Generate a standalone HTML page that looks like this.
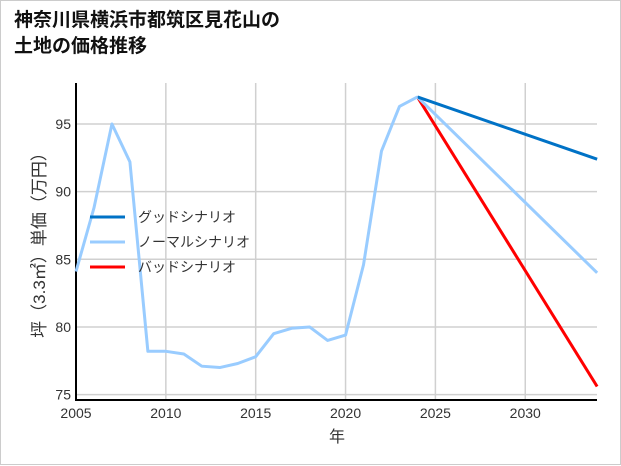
<!DOCTYPE html>
<html><head><meta charset="utf-8"><style>
html,body{margin:0;padding:0;background:#fff}
#wrap{position:relative;width:619px;height:463px;border:1px solid #ccc;background:#fff;font-family:"Liberation Sans","Noto Sans CJK JP",sans-serif}
#title{position:absolute;left:13px;top:7px;font-size:19px;font-weight:bold;line-height:26px;color:#111}
svg{position:absolute;left:0;top:0}
</style></head><body>
<div id="wrap">
<div id="title">神奈川県横浜市都筑区見花山の<br>土地の価格推移</div>
<svg id="chart" width="621" height="465"></svg>
</div>
<script>
const histYears=[2005,2006,2007,2008,2009,2010,2011,2012,2013,2014,2015,2016,2017,2018,2019,2020,2021,2022,2023,2024];
const histValues=[84.1,88.8,95.0,92.2,78.2,78.2,78.0,77.1,77.0,77.3,77.8,79.5,79.9,80.0,79.0,79.4,84.6,93.0,96.3,97.0];
const projYears=[2024,2034];
const goodValues=[97.0,92.4];
const normalValues=[97.0,84.0];
const badValues=[97.0,75.6];
const xTicks=[2005,2010,2015,2020,2025,2030];
const yTicks=[75,80,85,90,95];
const legendLabels=["グッドシナリオ","ノーマルシナリオ","バッドシナリオ"];
const legendColors=["#0072c6","#99ccff","#ff0000"];

const NS="http://www.w3.org/2000/svg";
const svg=document.getElementById('chart');
const X0=75,X1=596,Y0=399,Y1=82;
const xs=v=>75+(v-2005)*17.97;
const ys=v=>123+(95-v)*13.53;
function mk(t,a){const e=document.createElementNS(NS,t);for(const k in a)e.setAttribute(k,a[k]);svg.appendChild(e);return e;}
xTicks.forEach(t=>{
 const l=mk('line',{x1:xs(t),x2:xs(t),y1:Y1,y2:Y0,stroke:'#d0d0d0','stroke-width':1.5});
 
 
 const tx=mk('text',{x:xs(t),y:417,'text-anchor':'middle','font-size':14,fill:'#333'});
 tx.textContent=t;
 
 
});
yTicks.forEach(t=>{
 const l=mk('line',{x1:X0,x2:X1,y1:ys(t),y2:ys(t),stroke:'#d0d0d0','stroke-width':1.5});
 
 
 const tx=mk('text',{x:70,y:ys(t)+5,'text-anchor':'end','font-size':14,fill:'#333'});
 tx.textContent=t;
 
 
});
const ax=mk('path',{d:`M${X0},${Y1} V${Y0} H${X1}`,fill:'none',stroke:'#000','stroke-width':2});


function line(xsArr,vs,color,name){
 const p=mk('polyline',{points:xsArr.map((x,i)=>xs(x)+','+ys(vs[i])).join(' '),fill:'none',stroke:color,'stroke-width':3,'stroke-linejoin':'round'});
 
 
}
line(projYears,badValues,legendColors[2],'bad-scenario-line');
line(projYears,normalValues,legendColors[1],'normal-scenario-line');
line(projYears,goodValues,legendColors[0],'good-scenario-line');
line(histYears,histValues,legendColors[1],'historical-line');
legendLabels.forEach((lab,i)=>{
 const y=216+i*25;
 const l=mk('line',{x1:89,x2:124,y1:y,y2:y,stroke:legendColors[i],'stroke-width':3});
 
 
 const t=mk('text',{x:137,y:y+5,'font-size':14,fill:'#333'});
 t.textContent=lab;
 
 
});
const xt=mk('text',{x:336,y:441,'text-anchor':'middle','font-size':16,fill:'#333'});
xt.textContent='年';


const yt=mk('text',{x:0,y:0,'text-anchor':'middle','font-size':17,fill:'#333',transform:'translate(44,240) rotate(-90)'});
yt.textContent='坪（3.3㎡）単価（万円）';


</script>
</body></html>
